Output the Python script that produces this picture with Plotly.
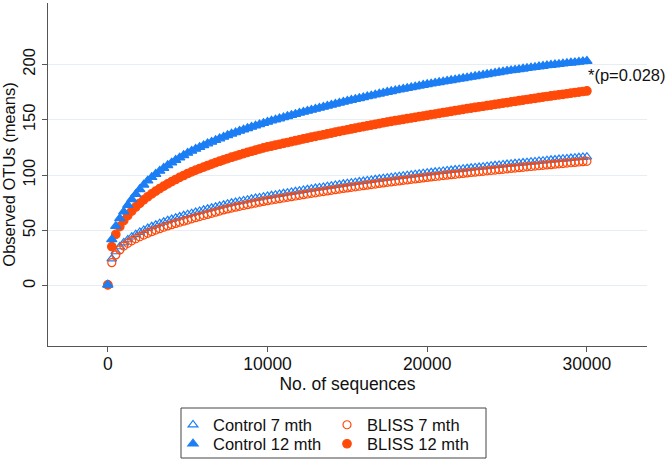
import plotly.graph_objects as go

# sequencing depth (x) and mean observed OTUs per group
SEQ_DEPTH = [1] + list(range(250, 30001, 250))

CONTROL_7 = [1,
    24.5, 31, 35.5, 39,
    41.8, 44.3, 46.5, 48.5, 50.3, 52,
    53.6, 55.0, 56.4, 57.7, 59.0, 60.2, 61.3, 62.4, 63.5, 64.5,
    65.5, 66.5, 67.5, 68.5, 69.4, 70.3, 71.2, 72.1, 73.0, 74,
    74.8, 75.5, 76.3, 77.0, 77.7, 78.4, 79.1, 79.7, 80.4, 81,
    81.6, 82.2, 82.8, 83.4, 84.0, 84.6, 85.2, 85.8, 86.4, 87,
    87.6, 88.1, 88.7, 89.2, 89.8, 90.3, 90.9, 91.4, 92.0, 92.5,
    93.0, 93.5, 94.0, 94.5, 95.0, 95.5, 96.0, 96.5, 97.0, 97.5,
    97.9, 98.4, 98.8, 99.3, 99.7, 100.2, 100.6, 101.1, 101.5, 102,
    102.4, 102.8, 103.2, 103.6, 104.0, 104.4, 104.8, 105.2, 105.6, 106,
    106.4, 106.8, 107.1, 107.5, 107.9, 108.3, 108.7, 109.0, 109.4, 109.8,
    110.1, 110.5, 110.8, 111.2, 111.5, 111.9, 112.2, 112.6, 112.9, 113.3,
    113.6, 113.9, 114.3, 114.6, 114.9, 115.2, 115.6, 115.9, 116.2, 116.5]

CONTROL_12 = [1,
    42, 54, 61, 67,
    73, 78.2, 82.9, 87.2, 91.3, 95,
    98.1, 101.0, 103.8, 106.4, 108.9, 111.3, 113.6, 115.8, 117.9, 120,
    121.9, 123.6, 125.3, 126.9, 128.5, 130.0, 131.5, 133.0, 134.5, 136,
    137.3, 138.6, 139.9, 141.1, 142.3, 143.5, 144.6, 145.8, 146.9, 148,
    149.1, 150.1, 151.1, 152.1, 153.1, 154.1, 155.1, 156.1, 157.0, 158,
    158.9, 159.8, 160.7, 161.6, 162.5, 163.4, 164.3, 165.2, 166.1, 167,
    167.8, 168.6, 169.4, 170.2, 171.0, 171.8, 172.6, 173.4, 174.2, 175,
    175.7, 176.4, 177.1, 177.8, 178.5, 179.2, 179.9, 180.6, 181.3, 182,
    182.6, 183.2, 183.8, 184.4, 185.0, 185.6, 186.2, 186.8, 187.4, 188,
    188.6, 189.2, 189.8, 190.4, 191.0, 191.6, 192.2, 192.8, 193.4, 194,
    194.5, 195.0, 195.5, 196.0, 196.5, 197.0, 197.5, 198.0, 198.5, 199,
    199.4, 199.8, 200.2, 200.6, 201.0, 201.4, 201.8, 202.2, 202.6, 203]

BLISS_7 = [1,
    21, 28, 32.5, 36,
    38.5, 40.7, 42.6, 44.4, 45.9, 47.5,
    49.0, 50.4, 51.7, 53.0, 54.2, 55.3, 56.4, 57.5, 58.5, 59.5,
    60.6, 61.6, 62.6, 63.6, 64.6, 65.6, 66.6, 67.6, 68.6, 69.5,
    70.3, 71.1, 71.9, 72.6, 73.4, 74.1, 74.8, 75.6, 76.3, 77,
    77.6, 78.2, 78.8, 79.4, 80.0, 80.6, 81.2, 81.8, 82.4, 83,
    83.6, 84.1, 84.7, 85.2, 85.8, 86.3, 86.9, 87.4, 88.0, 88.5,
    89.0, 89.5, 90.0, 90.5, 91.0, 91.5, 92.0, 92.5, 93.0, 93.5,
    93.9, 94.4, 94.8, 95.3, 95.7, 96.2, 96.6, 97.1, 97.5, 98,
    98.4, 98.8, 99.2, 99.6, 100.0, 100.4, 100.8, 101.2, 101.6, 102,
    102.4, 102.7, 103.1, 103.5, 103.9, 104.2, 104.6, 105.0, 105.3, 105.7,
    106.1, 106.4, 106.8, 107.1, 107.5, 107.8, 108.2, 108.5, 108.9, 109.2,
    109.5, 109.9, 110.2, 110.5, 110.9, 111.2, 111.5, 111.9, 112.2, 112.5]

BLISS_12 = [1,
    35.5, 46.5, 53.5, 59,
    63.6, 67.7, 71.3, 74.6, 77.7, 80.5,
    83.1, 85.6, 87.9, 90.1, 92.2, 94.2, 96.1, 98.0, 99.7, 101.5,
    103.0, 104.5, 105.9, 107.3, 108.7, 110.0, 111.3, 112.6, 113.8, 115,
    116.2, 117.3, 118.4, 119.5, 120.6, 121.6, 122.6, 123.6, 124.6, 125.5,
    126.3, 127.1, 127.9, 128.7, 129.5, 130.3, 131.1, 131.9, 132.7, 133.5,
    134.3, 135.0, 135.8, 136.5, 137.3, 138.0, 138.8, 139.5, 140.3, 141,
    141.7, 142.4, 143.1, 143.8, 144.5, 145.2, 145.9, 146.6, 147.3, 148,
    148.6, 149.2, 149.8, 150.4, 151.0, 151.6, 152.2, 152.8, 153.4, 154,
    154.6, 155.2, 155.8, 156.4, 157.0, 157.6, 158.2, 158.8, 159.4, 160,
    160.6, 161.1, 161.7, 162.2, 162.8, 163.3, 163.9, 164.4, 165.0, 165.5,
    166.1, 166.6, 167.2, 167.7, 168.3, 168.8, 169.4, 169.9, 170.5, 171,
    171.5, 172.0, 172.5, 173.0, 173.5, 174.0, 174.5, 175.0, 175.5, 176]

X_TICKS = [0, 10000, 20000, 30000]
Y_TICKS = [0, 50, 100, 150, 200]
P_NOTE = "*(p=0.028)"

BLUE = "#1c7ef4"
ORANGE = "#ff4a0a"
FONT = "Liberation Sans, Arial, Helvetica, sans-serif"
FS = 16.5
FSX = 17.5

# drawing order: Control 12 on top
series = [
    ("Control 7 mth", CONTROL_7, "triangle-up-open", BLUE, 8.5, "legend"),
    ("BLISS 7 mth", BLISS_7, "circle-open", ORANGE, 8, "legend2"),
    ("BLISS 12 mth", BLISS_12, "circle", ORANGE, 8.5, "legend4"),
    ("Control 12 mth", CONTROL_12, "triangle-up", BLUE, 9, "legend3"),
]

fig = go.Figure()
for name, vals, sym, col, sz, leg in series:
    fig.add_trace(go.Scatter(
        x=SEQ_DEPTH, y=vals, mode="markers", name=name, legend=leg,
        marker=dict(symbol=sym, color=col, size=sz, line=dict(color=col, width=1.2)),
        cliponaxis=False,
    ))

# plot area: x 48..647, y 3..346 px
def px_x(p):
    return (p - 48) / 599.0

def px_y(p):
    return (346 - p) / 343.0

leg_common = dict(bgcolor="rgba(0,0,0,0)", borderwidth=0, font=dict(family=FONT, size=FS, color="#111"),
                  xanchor="left", yanchor="middle", orientation="v", itemclick=False)
fig.update_layout(
    legend=dict(x=px_x(173), y=px_y(425), **leg_common),
    legend2=dict(x=px_x(327), y=px_y(425), **leg_common),
    legend3=dict(x=px_x(173), y=px_y(444), **leg_common),
    legend4=dict(x=px_x(327), y=px_y(444), **leg_common),
)

fig.add_shape(type="rect", xref="paper", yref="paper",
              x0=px_x(181), x1=px_x(486), y0=px_y(458), y1=px_y(408),
              line=dict(color="#444", width=1), fillcolor="rgba(0,0,0,0)")

fig.add_annotation(x=30000, y=190, text=P_NOTE, showarrow=False, xanchor="left", yanchor="middle",
                   xshift=-1, font=dict(family=FONT, size=FS, color="#111"))

fig.update_layout(
    width=666, height=463,
    margin=dict(l=48, r=19, t=3, b=117, autoexpand=False),
    paper_bgcolor="white", plot_bgcolor="white",
    font=dict(family=FONT, size=FS, color="#111"),
    showlegend=True,
    xaxis=dict(range=[-3745, 33763], tickvals=X_TICKS, ticktext=[str(v) for v in X_TICKS],
               showgrid=False, zeroline=False, showline=True, linecolor="#555", linewidth=1.3,
               ticks="outside", ticklen=5, tickcolor="#555", tickwidth=1, ticklabelstandoff=-3,
               tickfont=dict(family=FONT, size=FSX, color="#111"),
               title=dict(text="No. of sequences", standoff=1, font=dict(family=FONT, size=FSX, color="#111"))),
    yaxis=dict(range=[-54.2, 255.4], tickvals=Y_TICKS, ticktext=[str(v) for v in Y_TICKS],
               showgrid=True, gridcolor="#e6eef1", gridwidth=1, zeroline=False,
               showline=True, linecolor="#555", linewidth=1.3,
               ticks="outside", ticklen=5, tickcolor="#555", tickwidth=1, tickangle=-90,
               tickfont=dict(family=FONT, size=FS, color="#111"),
               title=dict(text="Observed OTUs (means)", standoff=5, font=dict(family=FONT, size=FS, color="#111"))),
)

fig.write_html("out.html", config={"displayModeBar": False},
               post_script="document.body.style.margin='0px';")
